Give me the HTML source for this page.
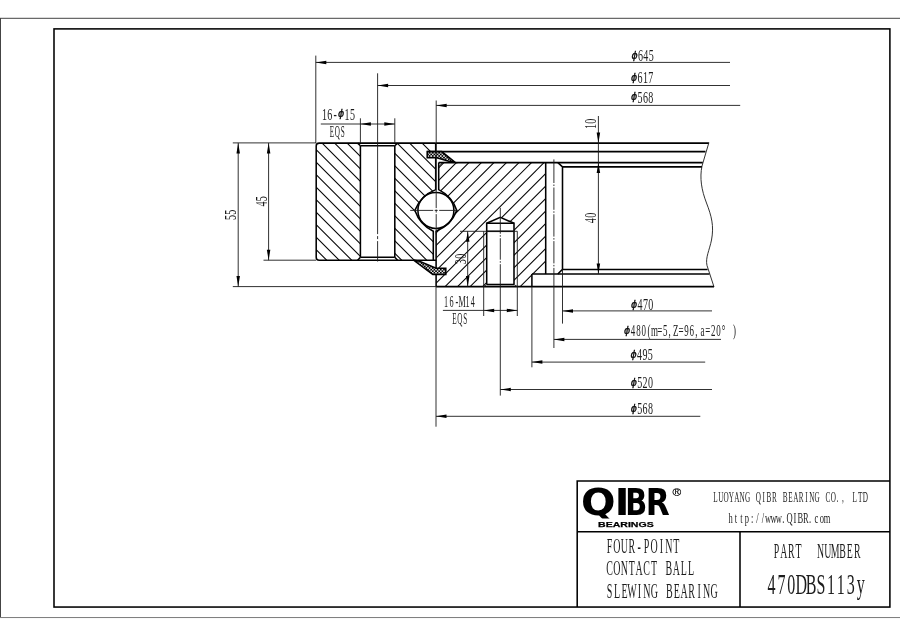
<!DOCTYPE html>
<html lang="en">
<head>
<meta charset="utf-8">
<title>470DBS113y four-point contact ball slewing bearing</title>
<style>
html,body{margin:0;padding:0;background:#fff;}
body{width:900px;height:636px;overflow:hidden;}
svg{display:block;filter:grayscale(1);}
.k{fill:none;stroke:#000;stroke-width:1.55;stroke-linejoin:miter;stroke-linecap:butt;}
.n{fill:none;stroke:#1a1a1a;stroke-width:0.9;}
.h{fill:none;stroke:#000;stroke-width:1.05;}
.o{stroke:#444;stroke-width:1;}
.o2{stroke:#7a7a7a;stroke-width:1;}
.a{fill:#000;stroke:none;}
.t{font-family:"Liberation Serif",serif;fill:#1c1c1c;}
.phi{font-family:"DejaVu Sans",sans-serif;font-size:11.2px;font-style:oblique;fill:#000;stroke:#000;stroke-width:0.35px;}
.lg{font-family:"DejaVu Sans",sans-serif !important;}
.sm{stroke:#000;stroke-width:0.25px;}
.reg{font-family:"Liberation Sans",sans-serif;fill:#000;stroke:#000;stroke-width:0.2px;}
.logo{font-family:"Liberation Sans",sans-serif;font-weight:bold;fill:#000;}
</style>
</head>
<body>
<svg width="900" height="636" viewBox="0 0 900 636">
<rect width="900" height="636" fill="#fff"/>
<g id="frame">
<line class="o" x1="0.50" y1="18.00" x2="0.50" y2="617.50"/>
<line class="o" x1="0.00" y1="18.30" x2="900.00" y2="18.30"/>
<line class="o2" x1="0.00" y1="617.55" x2="900.00" y2="617.55"/>
<rect class="k" x="54" y="28.9" width="835.9" height="578.15"/>
</g>
<defs>
<clipPath id="co"><path d="M319.2,143.1 L357.59999999999997,143.1 L360.4,145.8 L360.4,257.3 L357.59999999999997,260.2 L319.2,260.2 Q316.2,260.2 316.2,257.2 L316.2,146.1 Q316.2,143.1 319.2,143.1 Z M397.6,143.1 L435.7,143.1 L435.7,151.6 L427.2,151.6 L427.2,157.8 L435.7,157.8 L435.7,189.6 A36.6,36.6 0 0 0 414.9,210.4 A36.6,36.6 0 0 0 433.3,231.2 L433.3,260.2 L397.6,260.2 L394.8,257.3 L394.8,145.8 Z"/></clipPath>
<clipPath id="ci"><path d="M438.7,162.6 L545.7,162.6 L545.7,273.95 L531.9,273.95 L531.9,286.6 L517.3,286.6 L514.0,284.5 L514.0,223.3 L500.3,217.3 L486.7,223.3 L486.7,284.5 L483.7,286.6 L436.1,286.6 L436.1,231.2 A36.6,36.6 0 0 0 456.8,210.4 A36.6,36.6 0 0 0 438.7,189.6 Z"/></clipPath>
<pattern id="xh" width="3.2" height="3.2" patternUnits="userSpaceOnUse"><rect width="3.2" height="3.2" fill="#000"/><circle cx="0.8" cy="0.8" r="0.85" fill="#fff"/><circle cx="2.4" cy="2.4" r="0.85" fill="#fff"/></pattern>
</defs>
<g class="h" clip-path="url(#co)">
<line class="h" x1="59.00" y1="130.00" x2="204.00" y2="275.00"/>
<line class="h" x1="71.50" y1="130.00" x2="216.50" y2="275.00"/>
<line class="h" x1="84.00" y1="130.00" x2="229.00" y2="275.00"/>
<line class="h" x1="96.50" y1="130.00" x2="241.50" y2="275.00"/>
<line class="h" x1="109.00" y1="130.00" x2="254.00" y2="275.00"/>
<line class="h" x1="121.50" y1="130.00" x2="266.50" y2="275.00"/>
<line class="h" x1="134.00" y1="130.00" x2="279.00" y2="275.00"/>
<line class="h" x1="146.50" y1="130.00" x2="291.50" y2="275.00"/>
<line class="h" x1="159.00" y1="130.00" x2="304.00" y2="275.00"/>
<line class="h" x1="171.50" y1="130.00" x2="316.50" y2="275.00"/>
<line class="h" x1="184.00" y1="130.00" x2="329.00" y2="275.00"/>
<line class="h" x1="196.50" y1="130.00" x2="341.50" y2="275.00"/>
<line class="h" x1="209.00" y1="130.00" x2="354.00" y2="275.00"/>
<line class="h" x1="221.50" y1="130.00" x2="366.50" y2="275.00"/>
<line class="h" x1="234.00" y1="130.00" x2="379.00" y2="275.00"/>
<line class="h" x1="246.50" y1="130.00" x2="391.50" y2="275.00"/>
<line class="h" x1="259.00" y1="130.00" x2="404.00" y2="275.00"/>
<line class="h" x1="271.50" y1="130.00" x2="416.50" y2="275.00"/>
<line class="h" x1="284.00" y1="130.00" x2="429.00" y2="275.00"/>
<line class="h" x1="296.50" y1="130.00" x2="441.50" y2="275.00"/>
<line class="h" x1="309.00" y1="130.00" x2="454.00" y2="275.00"/>
<line class="h" x1="321.50" y1="130.00" x2="466.50" y2="275.00"/>
<line class="h" x1="334.00" y1="130.00" x2="479.00" y2="275.00"/>
<line class="h" x1="346.50" y1="130.00" x2="491.50" y2="275.00"/>
<line class="h" x1="359.00" y1="130.00" x2="504.00" y2="275.00"/>
<line class="h" x1="371.50" y1="130.00" x2="516.50" y2="275.00"/>
<line class="h" x1="384.00" y1="130.00" x2="529.00" y2="275.00"/>
<line class="h" x1="396.50" y1="130.00" x2="541.50" y2="275.00"/>
<line class="h" x1="409.00" y1="130.00" x2="554.00" y2="275.00"/>
<line class="h" x1="421.50" y1="130.00" x2="566.50" y2="275.00"/>
<line class="h" x1="434.00" y1="130.00" x2="579.00" y2="275.00"/>
<line class="h" x1="446.50" y1="130.00" x2="591.50" y2="275.00"/>
<line class="h" x1="459.00" y1="130.00" x2="604.00" y2="275.00"/>
<line class="h" x1="471.50" y1="130.00" x2="616.50" y2="275.00"/>
<line class="h" x1="484.00" y1="130.00" x2="629.00" y2="275.00"/>
<line class="h" x1="496.50" y1="130.00" x2="641.50" y2="275.00"/>
<line class="h" x1="509.00" y1="130.00" x2="654.00" y2="275.00"/>
<line class="h" x1="521.50" y1="130.00" x2="666.50" y2="275.00"/>
<line class="h" x1="534.00" y1="130.00" x2="679.00" y2="275.00"/>
<line class="h" x1="546.50" y1="130.00" x2="691.50" y2="275.00"/>
<line class="h" x1="559.00" y1="130.00" x2="704.00" y2="275.00"/>
<line class="h" x1="571.50" y1="130.00" x2="716.50" y2="275.00"/>
<line class="h" x1="584.00" y1="130.00" x2="729.00" y2="275.00"/>
<line class="h" x1="596.50" y1="130.00" x2="741.50" y2="275.00"/>
<line class="h" x1="609.00" y1="130.00" x2="754.00" y2="275.00"/>
<line class="h" x1="621.50" y1="130.00" x2="766.50" y2="275.00"/>
<line class="h" x1="634.00" y1="130.00" x2="779.00" y2="275.00"/>
<line class="h" x1="646.50" y1="130.00" x2="791.50" y2="275.00"/>
<line class="h" x1="659.00" y1="130.00" x2="804.00" y2="275.00"/>
<line class="h" x1="671.50" y1="130.00" x2="816.50" y2="275.00"/>
</g>
<g class="h" clip-path="url(#ci)">
<line class="h" x1="343.80" y1="150.00" x2="193.80" y2="300.00"/>
<line class="h" x1="356.32" y1="150.00" x2="206.32" y2="300.00"/>
<line class="h" x1="368.84" y1="150.00" x2="218.84" y2="300.00"/>
<line class="h" x1="381.36" y1="150.00" x2="231.36" y2="300.00"/>
<line class="h" x1="393.88" y1="150.00" x2="243.88" y2="300.00"/>
<line class="h" x1="406.40" y1="150.00" x2="256.40" y2="300.00"/>
<line class="h" x1="418.92" y1="150.00" x2="268.92" y2="300.00"/>
<line class="h" x1="431.44" y1="150.00" x2="281.44" y2="300.00"/>
<line class="h" x1="443.96" y1="150.00" x2="293.96" y2="300.00"/>
<line class="h" x1="456.48" y1="150.00" x2="306.48" y2="300.00"/>
<line class="h" x1="469.00" y1="150.00" x2="319.00" y2="300.00"/>
<line class="h" x1="481.52" y1="150.00" x2="331.52" y2="300.00"/>
<line class="h" x1="494.04" y1="150.00" x2="344.04" y2="300.00"/>
<line class="h" x1="506.56" y1="150.00" x2="356.56" y2="300.00"/>
<line class="h" x1="519.08" y1="150.00" x2="369.08" y2="300.00"/>
<line class="h" x1="531.60" y1="150.00" x2="381.60" y2="300.00"/>
<line class="h" x1="544.12" y1="150.00" x2="394.12" y2="300.00"/>
<line class="h" x1="556.64" y1="150.00" x2="406.64" y2="300.00"/>
<line class="h" x1="569.16" y1="150.00" x2="419.16" y2="300.00"/>
<line class="h" x1="581.68" y1="150.00" x2="431.68" y2="300.00"/>
<line class="h" x1="594.20" y1="150.00" x2="444.20" y2="300.00"/>
<line class="h" x1="606.72" y1="150.00" x2="456.72" y2="300.00"/>
<line class="h" x1="619.24" y1="150.00" x2="469.24" y2="300.00"/>
<line class="h" x1="631.76" y1="150.00" x2="481.76" y2="300.00"/>
<line class="h" x1="644.28" y1="150.00" x2="494.28" y2="300.00"/>
<line class="h" x1="656.80" y1="150.00" x2="506.80" y2="300.00"/>
<line class="h" x1="669.32" y1="150.00" x2="519.32" y2="300.00"/>
<line class="h" x1="681.84" y1="150.00" x2="531.84" y2="300.00"/>
<line class="h" x1="694.36" y1="150.00" x2="544.36" y2="300.00"/>
<line class="h" x1="706.88" y1="150.00" x2="556.88" y2="300.00"/>
<line class="h" x1="719.40" y1="150.00" x2="569.40" y2="300.00"/>
<line class="h" x1="731.92" y1="150.00" x2="581.92" y2="300.00"/>
<line class="h" x1="744.44" y1="150.00" x2="594.44" y2="300.00"/>
<line class="h" x1="756.96" y1="150.00" x2="606.96" y2="300.00"/>
<line class="h" x1="769.48" y1="150.00" x2="619.48" y2="300.00"/>
</g>
<g id="section">
<path class="k" d="M435.7,143.1 L319.2,143.1 Q316.2,143.1 316.2,146.1 L316.2,257.2 Q316.2,260.2 319.2,260.2 L436.1,260.2"/>
<line class="k" x1="435.70" y1="143.10" x2="708.90" y2="143.10"/>
<line class="k" x1="427.20" y1="151.60" x2="705.50" y2="151.60"/>
<line class="k" x1="360.40" y1="145.80" x2="360.40" y2="257.30"/>
<line class="k" x1="394.80" y1="145.80" x2="394.80" y2="257.30"/>
<line class="k" x1="360.40" y1="145.80" x2="394.80" y2="145.80"/>
<line class="k" x1="360.40" y1="257.30" x2="394.80" y2="257.30"/>
<line class="k" x1="357.60" y1="143.10" x2="360.40" y2="145.80"/>
<line class="k" x1="397.60" y1="143.10" x2="394.80" y2="145.80"/>
<line class="k" x1="357.60" y1="260.20" x2="360.40" y2="257.30"/>
<line class="k" x1="397.60" y1="260.20" x2="394.80" y2="257.30"/>
<path class="k" d="M435.7,143.1 L435.7,189.6 A36.6,36.6 0 0 0 414.9,210.4 A36.6,36.6 0 0 0 433.3,231.2 L433.3,260.2"/>
<path class="k" d="M438.7,162.6 L438.7,189.6 A36.6,36.6 0 0 1 456.8,210.4 A36.6,36.6 0 0 1 436.1,231.2 L436.1,286.6"/>
<line class="n" x1="439.30" y1="166.00" x2="442.20" y2="163.00"/>
<circle class="k" cx="435.9" cy="210.4" r="18.0" fill="#fff"/>
<line class="k" x1="438.70" y1="162.60" x2="702.80" y2="162.60"/>
<line class="k" x1="545.70" y1="162.60" x2="545.70" y2="273.95"/>
<path class="k" d="M557.9,162.6 L562.5,166.85 L562.5,269.4 L557.8,273.95"/>
<line class="k" x1="562.50" y1="166.85" x2="702.00" y2="166.85"/>
<line class="k" x1="562.50" y1="269.40" x2="707.60" y2="269.40"/>
<line class="k" x1="531.90" y1="273.95" x2="709.50" y2="273.95"/>
<line class="k" x1="531.90" y1="273.95" x2="531.90" y2="286.60"/>
<line class="k" x1="436.10" y1="286.60" x2="714.00" y2="286.60"/>
<path class="n" d="M708.9,142.6 L702.0,166.0 C699.5,178 701.5,190 706.5,203 C711.5,216 714.2,226 711.5,240 C709.5,250 705.2,258 707.0,265.5 L714.0,286.9"/>
<path class="k" d="M427.2,151.6 L441.7,151.6 L455.0,162.3 L448.9,161.3 L436.7,157.8 L427.2,157.8 Z" style="fill:url(#xh)"/>
<path class="k" d="M413.3,260.0 L432.8,274.4 L445.8,274.4 L445.8,268.3 L436.1,268.3 L419.4,261.3 Z" style="fill:url(#xh)"/>
<path class="k" d="M486.7,284.5 L486.7,223.3 L514.0,223.3 L514.0,284.5"/>
<path class="k" d="M486.7,223.3 L500.3,217.3 L514.0,223.3"/>
<line class="k" x1="486.70" y1="231.30" x2="514.00" y2="231.30"/>
<line class="k" x1="486.70" y1="284.50" x2="514.00" y2="284.50"/>
<line class="n" x1="483.70" y1="286.60" x2="486.70" y2="284.50"/>
<line class="n" x1="514.00" y1="284.50" x2="517.30" y2="286.60"/>
<line class="n" x1="483.70" y1="231.30" x2="483.70" y2="316.00"/>
<line class="n" x1="517.30" y1="231.30" x2="517.30" y2="316.00"/>
</g>
<g id="centre">
<line class="n" x1="377.60" y1="73.30" x2="377.60" y2="143.10"/>
<line class="n" x1="377.60" y1="143.10" x2="377.60" y2="261.50" stroke-dasharray="91 2 3 2 40"/>
<line class="n" x1="436.20" y1="100.50" x2="436.20" y2="143.10"/>
<line class="n" x1="436.20" y1="143.10" x2="436.20" y2="234.50" stroke-dasharray="65 1.5 3 1.5 40"/>
<line class="n" x1="410.20" y1="210.40" x2="458.60" y2="210.40" stroke-dasharray="23 1.5 3 1.5 40"/>
<line class="n" x1="553.90" y1="159.40" x2="553.90" y2="348.00" stroke-dasharray="23.6 1.5 1.5 1.5 22.3 1.5 1.5 1.5 22.3 1.5 1.5 1.5 22.3 1.5 1.5 1.5 90"/>
<line class="n" x1="500.30" y1="207.80" x2="500.30" y2="395.60" stroke-dasharray="25.9 1.5 1.5 1.5 21.5 1.5 1.5 1.5 140"/>
</g>
<g id="dims">
<line class="n" x1="315.80" y1="55.60" x2="315.80" y2="143.10"/>
<line class="n" x1="315.80" y1="62.40" x2="730.00" y2="62.40"/>
<polygon class="a" points="315.80,62.40 326.30,60.65 326.30,64.15"/>
<line class="n" x1="377.60" y1="85.50" x2="730.00" y2="85.50"/>
<polygon class="a" points="377.60,85.50 388.10,83.75 388.10,87.25"/>
<line class="n" x1="436.20" y1="105.40" x2="740.20" y2="105.40"/>
<polygon class="a" points="436.20,105.40 446.70,103.65 446.70,107.15"/>
<line class="n" x1="360.40" y1="118.30" x2="360.40" y2="143.10"/>
<line class="n" x1="394.80" y1="118.30" x2="394.80" y2="143.10"/>
<line class="n" x1="320.80" y1="124.00" x2="394.80" y2="124.00"/>
<polygon class="a" points="360.40,124.00 370.90,122.25 370.90,125.75"/>
<polygon class="a" points="394.80,124.00 384.30,122.25 384.30,125.75"/>
<line class="n" x1="232.80" y1="142.90" x2="316.20" y2="142.90"/>
<line class="n" x1="232.80" y1="286.60" x2="436.10" y2="286.60"/>
<line class="n" x1="263.50" y1="260.20" x2="316.20" y2="260.20"/>
<line class="n" x1="238.20" y1="142.90" x2="238.20" y2="286.60"/>
<polygon class="a" points="238.20,142.90 236.45,153.40 239.95,153.40"/>
<polygon class="a" points="238.20,286.60 236.45,276.10 239.95,276.10"/>
<line class="n" x1="268.60" y1="142.90" x2="268.60" y2="260.20"/>
<polygon class="a" points="268.60,142.90 266.85,153.40 270.35,153.40"/>
<polygon class="a" points="268.60,260.20 266.85,249.70 270.35,249.70"/>
<line class="n" x1="598.40" y1="116.00" x2="598.40" y2="273.95"/>
<polygon class="a" points="598.40,143.10 596.65,132.60 600.15,132.60"/>
<polygon class="a" points="598.40,162.60 596.65,173.10 600.15,173.10"/>
<polygon class="a" points="598.40,273.95 596.65,263.45 600.15,263.45"/>
<line class="n" x1="460.00" y1="231.30" x2="517.30" y2="231.30"/>
<line class="n" x1="467.70" y1="231.30" x2="467.70" y2="286.60"/>
<polygon class="a" points="467.70,231.30 465.95,241.80 469.45,241.80"/>
<polygon class="a" points="467.70,286.60 465.95,276.10 469.45,276.10"/>
<line class="n" x1="442.90" y1="310.40" x2="517.30" y2="310.40"/>
<polygon class="a" points="483.70,310.40 494.20,308.65 494.20,312.15"/>
<polygon class="a" points="517.30,310.40 506.80,308.65 506.80,312.15"/>
<line class="n" x1="562.50" y1="269.40" x2="562.50" y2="323.60"/>
<line class="n" x1="562.50" y1="310.90" x2="712.00" y2="310.90"/>
<polygon class="a" points="562.50,310.90 573.00,309.15 573.00,312.65"/>
<line class="n" x1="553.90" y1="339.40" x2="721.00" y2="339.40"/>
<polygon class="a" points="553.90,339.40 564.40,337.65 564.40,341.15"/>
<line class="n" x1="531.90" y1="286.60" x2="531.90" y2="367.30"/>
<line class="n" x1="531.90" y1="362.10" x2="705.20" y2="362.10"/>
<polygon class="a" points="531.90,362.10 542.40,360.35 542.40,363.85"/>
<line class="n" x1="500.30" y1="389.50" x2="712.00" y2="389.50"/>
<polygon class="a" points="500.30,389.50 510.80,387.75 510.80,391.25"/>
<line class="n" x1="436.00" y1="286.60" x2="436.00" y2="426.70"/>
<line class="n" x1="436.00" y1="416.30" x2="700.30" y2="416.30"/>
<polygon class="a" points="436.00,416.30 446.50,414.55 446.50,418.05"/>
</g>
<g id="dimtext">
<text class="t" font-size="15.7" transform="translate(631.20,60.90) scale(0.639,1)"><tspan class="phi" x="0.37" y="-2.2" textLength="9.68" lengthAdjust="spacingAndGlyphs">ϕ</tspan><tspan x="10.62 18.97 27.33" y="0">645</tspan></text>
<text class="t" font-size="15.7" transform="translate(630.80,82.90) scale(0.639,1)"><tspan class="phi" x="0.37" y="-2.2" textLength="9.68" lengthAdjust="spacingAndGlyphs">ϕ</tspan><tspan x="10.62 18.97 27.33" y="0">617</tspan></text>
<text class="t" font-size="15.7" transform="translate(630.80,102.50) scale(0.639,1)"><tspan class="phi" x="0.37" y="-2.2" textLength="9.68" lengthAdjust="spacingAndGlyphs">ϕ</tspan><tspan x="10.62 18.97 27.33" y="0">568</tspan></text>
<text class="t" font-size="15.7" transform="translate(321.80,119.60) scale(0.639,1)"><tspan x="0.25 8.61 18.28" y="0">16-</tspan><tspan class="phi" x="25.44" y="-2.2" textLength="9.68" lengthAdjust="spacingAndGlyphs">ϕ</tspan><tspan x="35.69 44.04" y="0">15</tspan></text>
<text class="t" font-size="15.7" transform="translate(329.30,136.60) scale(0.457,1)"><tspan x="1.05 11.86 24.85" y="0">EQS</tspan></text>
<text class="t" font-size="15.7" transform="translate(443.50,306.80) scale(0.52,1)"><tspan x="1.21 11.48 23.06 28.96 42.29 52.56" y="0">16-M14</tspan></text>
<text class="t" font-size="15.7" transform="translate(451.80,323.60) scale(0.457,1)"><tspan x="1.05 11.86 24.85" y="0">EQS</tspan></text>
<text class="t" font-size="15.7" transform="translate(630.80,310.20) scale(0.639,1)"><tspan class="phi" x="0.37" y="-2.2" textLength="9.68" lengthAdjust="spacingAndGlyphs">ϕ</tspan><tspan x="10.62 18.97 27.33" y="0">470</tspan></text>
<text class="t" font-size="15.7" transform="translate(623.80,335.80) scale(0.57,1)"><tspan class="phi" x="0.42" y="-2.2" textLength="10.86" lengthAdjust="spacingAndGlyphs">ϕ</tspan><tspan x="12.38 21.74 31.11 41.79 47.67 58.72 68.59 78.32 86.45 96.19 106.06 115.43 125.16 134.61 143.03 152.90 162.27 171.82 191.69" y="0">480(m=5,Z=96,a=20°)</tspan></text>
<text class="t" font-size="15.7" transform="translate(630.30,359.90) scale(0.639,1)"><tspan class="phi" x="0.37" y="-2.2" textLength="9.68" lengthAdjust="spacingAndGlyphs">ϕ</tspan><tspan x="10.62 18.97 27.33" y="0">495</tspan></text>
<text class="t" font-size="15.7" transform="translate(630.50,388.00) scale(0.639,1)"><tspan class="phi" x="0.37" y="-2.2" textLength="9.68" lengthAdjust="spacingAndGlyphs">ϕ</tspan><tspan x="10.62 18.97 27.33" y="0">520</tspan></text>
<text class="t" font-size="15.7" transform="translate(630.50,414.40) scale(0.639,1)"><tspan class="phi" x="0.37" y="-2.2" textLength="9.68" lengthAdjust="spacingAndGlyphs">ϕ</tspan><tspan x="10.62 18.97 27.33" y="0">568</tspan></text>
<text class="t" font-size="15.7" transform="translate(236.00,220.14) rotate(-90) scale(0.639,1)"><tspan x="0.25 8.61" y="0">55</tspan></text>
<text class="t" font-size="15.7" transform="translate(266.60,206.74) rotate(-90) scale(0.639,1)"><tspan x="0.25 8.61" y="0">45</tspan></text>
<text class="t" font-size="15.7" transform="translate(596.30,129.24) rotate(-90) scale(0.639,1)"><tspan x="0.25 8.61" y="0">10</tspan></text>
<text class="t" font-size="15.7" transform="translate(596.30,223.34) rotate(-90) scale(0.639,1)"><tspan x="0.25 8.61" y="0">40</tspan></text>
<text class="t" font-size="15.7" transform="translate(465.60,264.34) rotate(-90) scale(0.639,1)"><tspan x="0.25 8.61" y="0">30</tspan></text>
</g>
<g id="title">
<path class="k" d="M577.2,607 L577.2,481 L889.9,481"/>
<line class="k" x1="577.20" y1="531.80" x2="890.00" y2="531.80"/>
<line class="k" x1="740.00" y1="531.80" x2="740.00" y2="607.00"/>
<clipPath id="cq"><rect x="578" y="482" width="100" height="36.4"/></clipPath>
<text class="logo lg" font-size="36.6" y="514.7" clip-path="url(#cq)"><tspan x="580.97" textLength="34.57" lengthAdjust="spacingAndGlyphs">Q</tspan><tspan x="614.69" textLength="14.65" lengthAdjust="spacingAndGlyphs">I</tspan><tspan x="625.25" textLength="21.97" lengthAdjust="spacingAndGlyphs">B</tspan><tspan x="645.84" textLength="23.98" lengthAdjust="spacingAndGlyphs">R</tspan></text>
<text class="logo sm" font-size="8.0" x="598.1" y="527.0" textLength="55.6" lengthAdjust="spacingAndGlyphs">BEARINGS</text>
<text class="reg" font-size="11.8" x="672.4" y="496.2">®</text>
<text class="t" font-size="15.2" transform="translate(712.70,501.70) scale(0.474,1)"><tspan x="1.01 11.47 22.78 34.09 45.40 56.71 68.01" y="0">LUOYANG</tspan> <tspan x="90.63 104.90 113.67 124.97" y="0">QIBR</tspan> <tspan x="147.59 159.32 169.79 181.51 195.36 203.71 215.02" y="0">BEARING</tspan> <tspan x="238.05 248.94 261.44 272.75" y="0">CO.,</tspan> <tspan x="295.02 306.33 316.79" y="0">LTD</tspan></text>
<text class="t" font-size="15.2" transform="translate(728.00,523.30) scale(0.56,1)"><tspan x="0.99 12.25 21.82 29.70 40.96" y="0">http:</tspan><tspan x="50.53 60.10 66.30 75.87 85.44 96.86 104.58 117.11 124.15 133.72 144.72 154.56 163.70 171.16" y="0">//www.QIBR.com</tspan></text>
<text class="t" font-size="21.6" transform="translate(605.80,552.70) scale(0.461,1)"><tspan x="2.04 16.34 32.44 49.13 68.83 82.52 96.82 117.12 129.01 146.31" y="0">FOUR-POINT</tspan></text>
<text class="t" font-size="21.6" transform="translate(605.80,574.80) scale(0.461,1)"><tspan x="0.84 16.34 32.44 49.74 64.63 81.32 98.02" y="0">CONTACT</tspan> <tspan x="129.61 145.11 162.41 178.50" y="0">BALL</tspan></text>
<text class="t" font-size="21.6" transform="translate(605.80,597.60) scale(0.464,1)"><tspan x="2.04 17.55 33.65 46.15 68.85 80.75 96.84" y="0">SLEWING</tspan> <tspan x="129.64 146.34 161.24 177.94 197.64 209.54 225.64" y="0">BEARING</tspan></text>
<text class="t" font-size="21.3" transform="translate(772.90,558.10) scale(0.462,1)"><tspan x="2.01 16.11 32.56 49.02" y="0">PART</tspan>  <tspan x="95.44 111.30 125.39 143.62 160.09 175.35" y="0">NUMBER</tspan></text>
<text class="t" font-size="28.6" transform="translate(766.60,593.60) scale(0.56,1)"><tspan x="1.69 19.37 37.05 51.55 70.02 89.28 107.76 125.44 143.12 160.80" y="0">470DBS113y</tspan></text>
</g>
</svg>
</body>
</html>
